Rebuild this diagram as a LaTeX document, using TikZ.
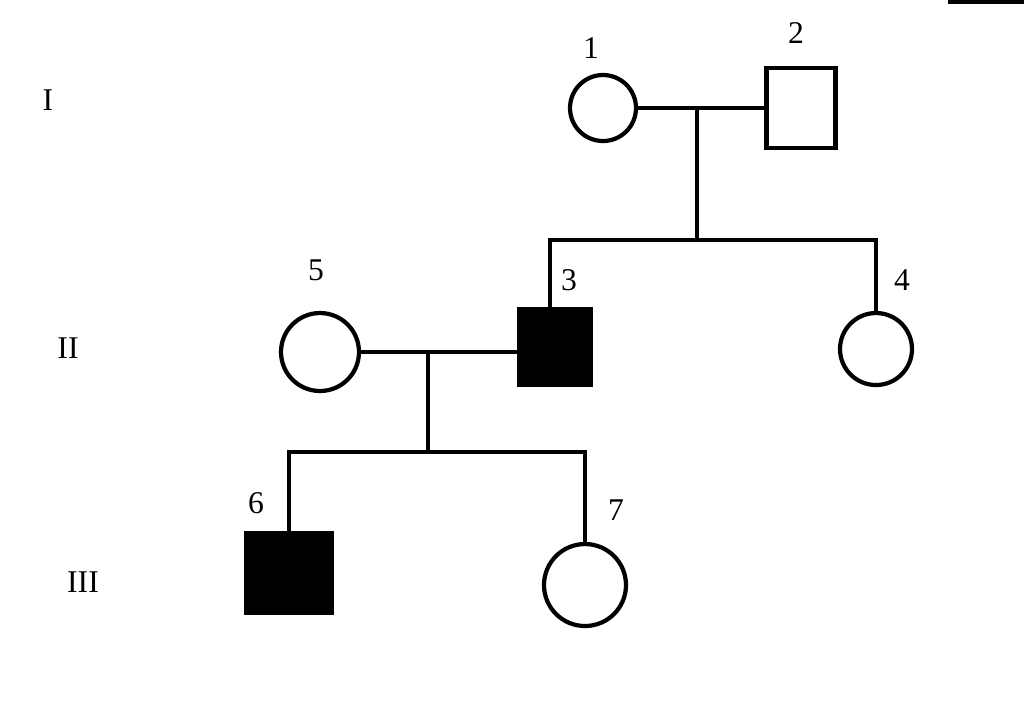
\documentclass[tikz,border=0pt]{standalone}
\usepackage{fontspec}
\setmainfont{Liberation Serif}
\tikzset{
  female/.style={draw, circle, line width=1.2pt, inner sep=0pt},
  male/.style={draw, rectangle, line width=1.2pt, inner sep=0pt},
  ill/.style={fill=black},
  num/.style={font=\fontsize{9}{10}\selectfont},
  gen/.style={font=\fontsize{9}{10}\selectfont},
  link/.style={line width=1.2pt}
}
\begin{document}
\begin{tikzpicture}[x=0.1mm,y=-0.1mm]
\useasboundingbox (0,0) rectangle (1024,711);
\draw [line width=1pt] (948,2) -- (1024,2);
% generations
\node[gen] (gI) at (48,100) {I};
\node[gen] (gII) at (68,348) {II};
\node[gen] (gIII) at (83,582) {III};
% generation I
\node[female, minimum size=6.6mm] (p1) at (603,108) {};
\node[male, minimum width=6.9mm, minimum height=8mm] (p2) at (801,108) {};
\node[num] (l1) at (591,48) {1};
\node[num] (l2) at (796,33) {2};
% generation II
\node[male, ill, minimum width=7.1mm, minimum height=7.5mm] (p3) at (555,347) {};
\node[female, minimum size=7.2mm] (p4) at (876,349) {};
\node[female, minimum size=7.8mm] (p5) at (320,352) {};
\node[num] (l3) at (569,280) {3};
\node[num] (l4) at (902,280) {4};
\node[num] (l5) at (316,270) {5};
% generation III
\node[male, ill, minimum width=8.5mm, minimum height=7.9mm] (p6) at (289,573) {};
\node[female, minimum size=8.2mm] (p7) at (585,585) {};
\node[num] (l6) at (256,503) {6};
\node[num] (l7) at (616,510) {7};
% links
\coordinate (m1) at (697,108);
\coordinate (s1) at (697,240);
\coordinate (m2) at (428,352);
\coordinate (s2) at (428,452);
\draw[link] (p1.east) -- (p2.west);
\draw[link] (m1) -- (s1);
\draw[link] (p3.north -| 550,0) |- (s1) -| (p4.north);
\draw[link] (p5.east) -- (p5.east -| p3.west);
\draw[link] (m2) -- (s2);
\draw[link] (p6.north) |- (s2) -| (p7.north);
\end{tikzpicture}
\end{document}
